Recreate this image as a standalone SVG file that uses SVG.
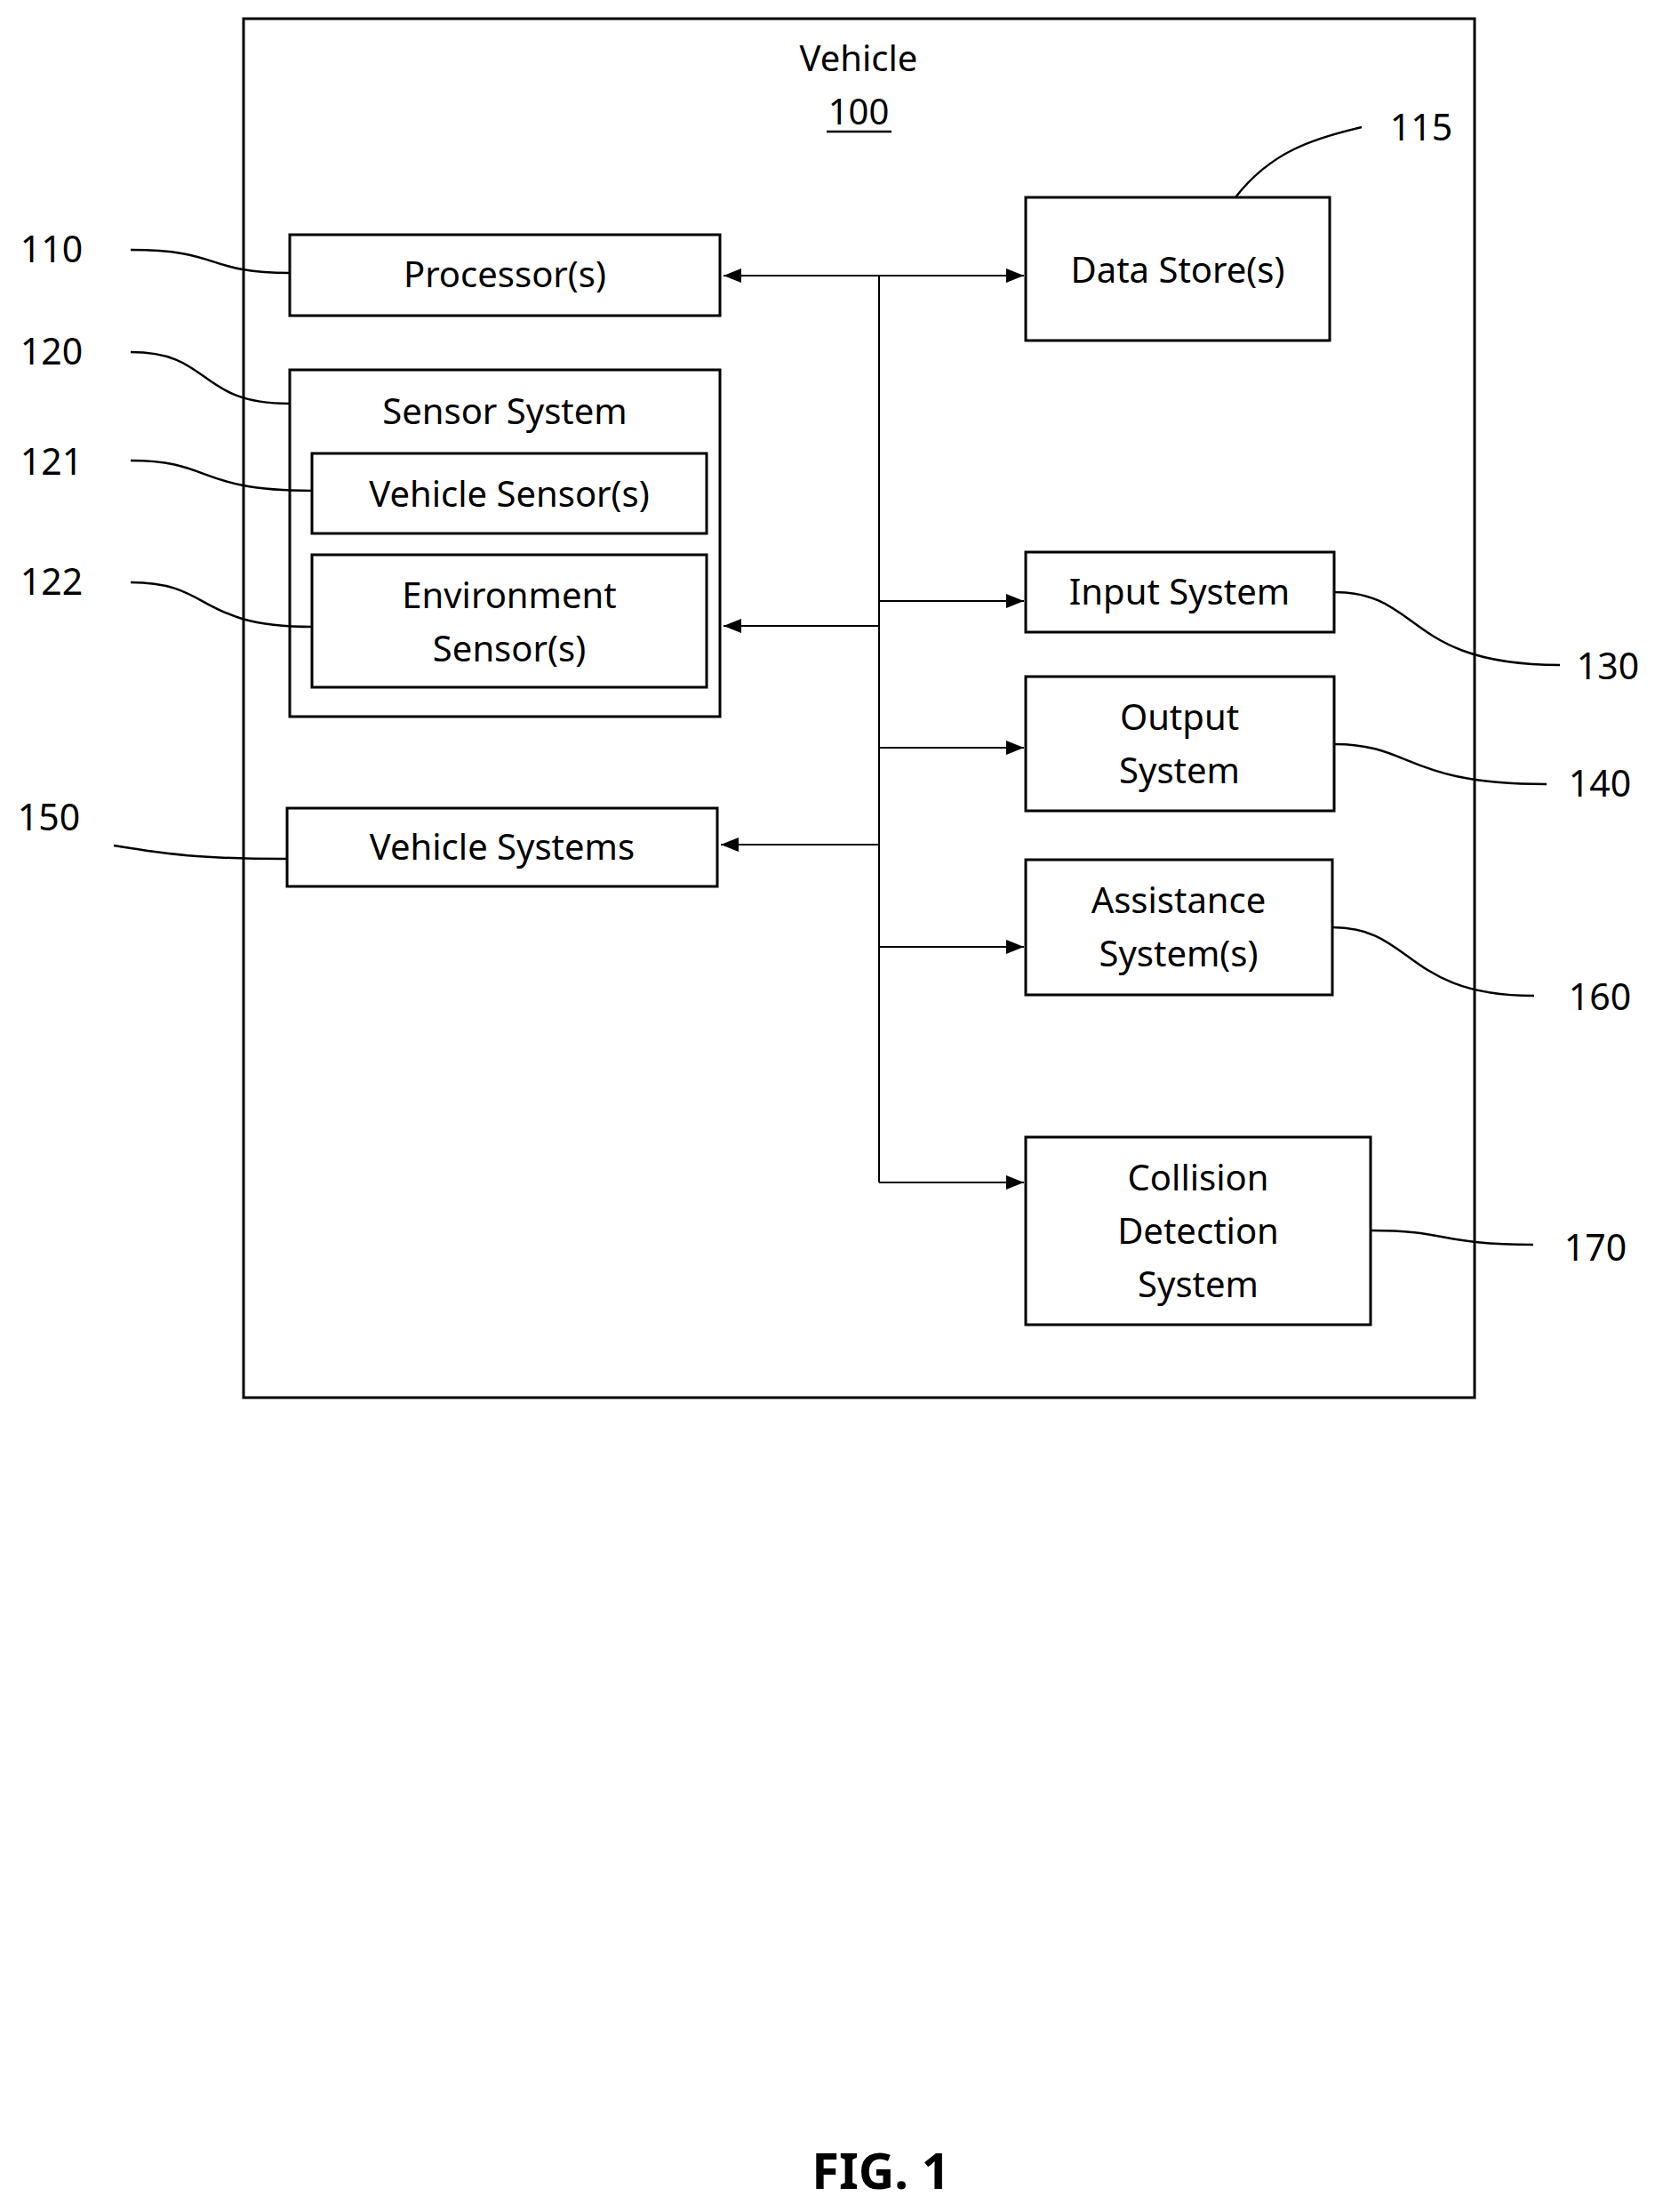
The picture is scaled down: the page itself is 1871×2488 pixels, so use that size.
<svg xmlns="http://www.w3.org/2000/svg" width="1871" height="2488" viewBox="0 0 1871 2488">
<style>
rect{fill:none;stroke:#000;stroke-width:3}
text{font-family:"Noto Sans","Liberation Sans",sans-serif;font-size:40px;text-anchor:middle;fill:#000}
.n{font-size:41px}
.c{fill:none;stroke:#000;stroke-width:2}
.l{fill:none;stroke:#000;stroke-width:2.5}
</style>
<defs>
<marker id="b" viewBox="0 0 10 10" refX="10" refY="5" markerWidth="20" markerHeight="20" orient="auto-start-reverse" markerUnits="userSpaceOnUse"><path d="M0,1L10,5L0,9z" fill="#000"/></marker></defs>
<g id="vehicle"><rect x="274" y="21" width="1385" height="1551"/><text x="966" y="80">Vehicle</text><text x="966" y="140">100</text><line x1="930" y1="148" x2="1003" y2="148" stroke="#000" stroke-width="2.5"/></g>
<g id="processor"><rect x="326" y="264" width="484" height="91"/><text x="568" y="323">Processor(s)</text></g>
<g id="datastore"><rect x="1154" y="222" width="342" height="161"/><text x="1325" y="318">Data Store(s)</text></g>
<g id="sensorsystem"><rect x="326" y="416" width="484" height="390"/><text x="568" y="477">Sensor System</text></g>
<g id="vehiclesensor"><rect x="351" y="510" width="444" height="90"/><text x="573" y="570">Vehicle Sensor(s)</text></g>
<g id="envsensor"><rect x="351" y="624" width="444" height="149"/><text x="573" y="684">Environment</text><text x="573" y="744">Sensor(s)</text></g>
<g id="vehiclesystems"><rect x="323" y="909" width="484" height="88"/><text x="565" y="967">Vehicle Systems</text></g>
<g id="input"><rect x="1154" y="621" width="347" height="90"/><text x="1327" y="680">Input System</text></g>
<g id="output"><rect x="1154" y="761" width="347" height="151"/><text x="1327" y="821">Output</text><text x="1327" y="881">System</text></g>
<g id="assistance"><rect x="1154" y="967" width="345" height="152"/><text x="1326" y="1027">Assistance</text><text x="1326" y="1087">System(s)</text></g>
<g id="collision"><rect x="1154" y="1279" width="388" height="211"/><text x="1348" y="1339">Collision</text><text x="1348" y="1399">Detection</text><text x="1348" y="1459">System</text></g>
<g id="connectors">
<path class="c" d="M989,310V1330"/>
<path class="c" d="M814,310H1152" marker-start="url(#b)" marker-end="url(#b)"/>
<path class="c" d="M989,704H814" marker-end="url(#b)"/>
<path class="c" d="M989,676H1152" marker-end="url(#b)"/>
<path class="c" d="M989,841H1152" marker-end="url(#b)"/>
<path class="c" d="M989,950H811" marker-end="url(#b)"/>
<path class="c" d="M989,1065H1152" marker-end="url(#b)"/>
<path class="c" d="M989,1330H1152" marker-end="url(#b)"/>
</g>
<g id="leaders">
<path class="l" d="M147,281C250,281 230,307 326,307"/>
<path class="l" d="M147,396C240,396 220,454 326,454"/>
<path class="l" d="M147,518C240,518 220,552 351,552"/>
<path class="l" d="M147,655C240,655 220,705 351,705"/>
<path class="l" d="M128,951C200,963 240,966 323,966"/>
<path class="l" d="M1390,222C1430,170 1480,155 1532,143"/>
<path class="l" d="M1501,666C1600,666 1580,748 1755,748"/>
<path class="l" d="M1501,837C1590,837 1580,882 1740,882"/>
<path class="l" d="M1499,1043C1590,1043 1580,1120 1726,1120"/>
<path class="l" d="M1542,1384C1630,1384 1620,1400 1725,1400"/>
</g>
<g id="labels">
<text class="n" x="58" y="295">110</text><text class="n" x="58" y="410">120</text><text class="n" x="58" y="534">121</text><text class="n" x="58" y="669">122</text><text class="n" x="55" y="934">150</text>
<text class="n" x="1599" y="158">115</text><text class="n" x="1809" y="764">130</text><text class="n" x="1800" y="896">140</text><text class="n" x="1800" y="1136">160</text><text class="n" x="1795" y="1418">170</text>
<text x="991" y="2462" style="font-size:56px;font-weight:bold">FIG. 1</text>
</g>
</svg>
